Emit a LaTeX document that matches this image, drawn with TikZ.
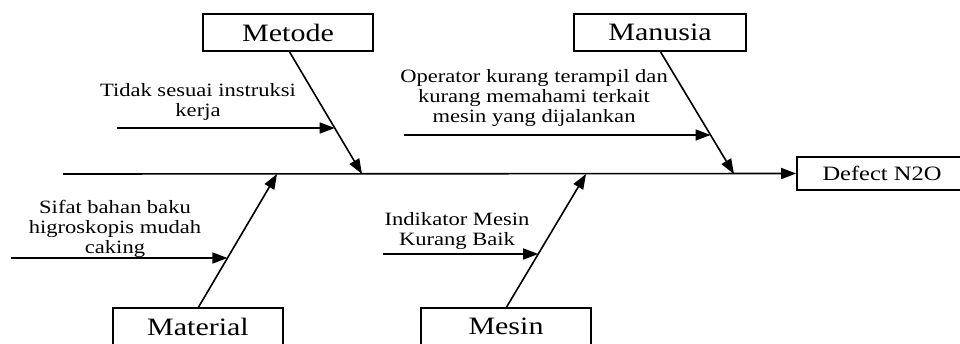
\documentclass[tikz,border=0pt]{standalone}
\usepackage{fontspec}
\setmainfont{Liberation Serif}[FakeStretch=1.2]
\usetikzlibrary{arrows.meta,calc}
\begin{document}
\begin{tikzpicture}[x=1pt,y=-1pt,line width=1.6pt,
  catbox/.style={draw,line width=1.6pt,minimum height=37pt,inner sep=0pt,
    font=\fontsize{25}{30}\selectfont},
  lbl/.style={align=center,inner sep=0pt,font=\fontsize{18.8}{20}\selectfont},
  arr/.style={-{Triangle[length=15pt,width=11pt]}}]
\useasboundingbox (0,0) rectangle (960,343);
\clip (0,0) rectangle (960,343);
% category boxes
\node[catbox,minimum width=170pt] (metode) at (288,32.5) {Metode};
\node[catbox,minimum width=172pt] (manusia) at (660,32.5) {Manusia};
\node[catbox,minimum width=170pt] (material) at (198,326.5) {Material};
\node[catbox,minimum width=170pt] (mesin) at (506,326.5) {Mesin};
\node[draw,line width=1.6pt,minimum width=170pt,minimum height=33pt,inner sep=0pt,
  font=\fontsize{20.4}{24}\selectfont] (defect) at (882,173.5) {Defect N2O};
% spine
\coordinate (spinestart) at (63,174);
\draw[arr] (spinestart) -- (defect.west);
% bones
\coordinate (metA) at (289,51);   \coordinate (metB) at (362,174);
\coordinate (manA) at (660,51);   \coordinate (manB) at (734,174);
\coordinate (matA) at (198,308);  \coordinate (matB) at (277,174);
\coordinate (mesA) at (506,308);  \coordinate (mesB) at (586,174);
\draw[arr] (metA) -- (metB);
\draw[arr] (manA) -- (manB);
\draw[arr] (matA) -- (matB);
\draw[arr] (mesA) -- (mesB);
% cause arrows
\coordinate (c1) at (117,128);
\coordinate (c1t) at ($(metA)!{(128-51)/123}!(metB)$);
\draw[arr] (c1) -- (c1t);
\coordinate (c2) at (404,135);
\coordinate (c2t) at ($(manA)!{(135-51)/123}!(manB)$);
\draw[arr] (c2) -- (c2t);
\coordinate (c3) at (11,258);
\coordinate (c3t) at ($(matA)!{(308-258)/134}!(matB)$);
\draw[arr] (c3) -- (c3t);
\coordinate (c4) at (383,254);
\coordinate (c4t) at ($(mesA)!{(308-254)/134}!(mesB)$);
\draw[arr] (c4) -- (c4t);
% labels (anchor base = baseline of the last line)
\node[lbl,anchor=base] (l1) at (198,116) {Tidak sesuai instruksi\\kerja};
\node[lbl,anchor=base] (l2) at (534,122) {Operator kurang terampil dan\\kurang memahami terkait\\mesin yang dijalankan};
\node[lbl,anchor=base] (l3) at (115,253) {Sifat bahan baku\\higroskopis mudah\\caking};
\node[lbl,anchor=base] (l4) at (457,245) {Indikator Mesin\\Kurang Baik};
\end{tikzpicture}
\end{document}
